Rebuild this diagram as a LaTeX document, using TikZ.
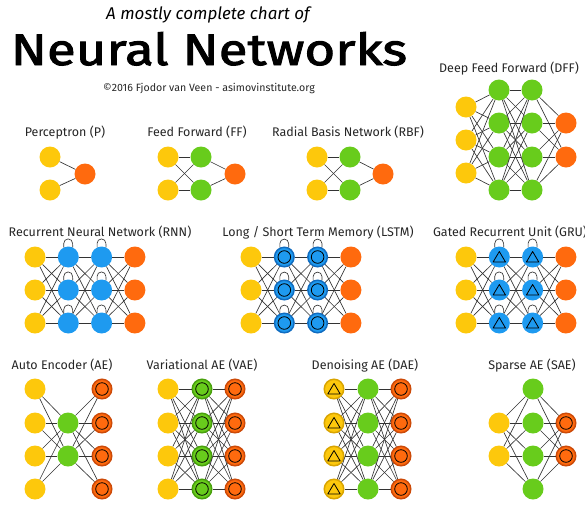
\documentclass[tikz,border=0pt]{standalone}
\usepackage{fontspec}
\setmainfont{Fira Sans}
\newfontfamily\headfont[FakeStretch=1.2, FakeBold=2.2]{Fira Sans}
\usetikzlibrary{positioning}
\definecolor{nnyellow}{HTML}{FDC80C}
\definecolor{nngreen}{HTML}{68CC1C}
\definecolor{nnorange}{HTML}{FF6A0E}
\definecolor{nnblue}{HTML}{1E9AF0}
\definecolor{nnyellowdark}{HTML}{D9A400}
\definecolor{nngreendark}{HTML}{48A00C}
\definecolor{nnorangedark}{HTML}{CC4A08}
\definecolor{nnbluedark}{HTML}{106CC0}
\def\layersep{33.3}

\begin{document}
\begin{tikzpicture}[x=1pt,y=-1pt]
    \tikzstyle{conn}=[draw=black!80, line width=0.65pt]
    \tikzstyle{neuron}=[circle, minimum size=21pt, inner sep=0pt]
    \tikzstyle{ringed}=[line width=1.5pt, minimum size=19.5pt]
    \tikzstyle{input neuron}=[neuron, fill=nnyellow]
    \tikzstyle{hidden neuron}=[neuron, fill=nngreen]
    \tikzstyle{output neuron}=[neuron, fill=nnorange]
    \tikzstyle{recurrent neuron}=[neuron, fill=nnblue]
    \tikzstyle{match}=[path picture={\draw[black, line width=0.8pt] (path picture bounding box.center) circle (6.3pt);}]
    \tikzstyle{noisy}=[path picture={\draw[black, line width=0.8pt, line join=round] ([yshift=5.5pt]path picture bounding box.center) -- ++(-6.2pt,-10.5pt) -- ++(12.4pt,0pt) -- cycle;}]
    \tikzstyle{match output neuron}=[output neuron, ringed, draw=nnorangedark, match]
    \tikzstyle{memory neuron}=[recurrent neuron, ringed, draw=nnbluedark, match]
    \tikzstyle{gated neuron}=[recurrent neuron, noisy]
    \tikzstyle{probabilistic neuron}=[hidden neuron, ringed, draw=nngreendark, match]
    \tikzstyle{noisy input neuron}=[input neuron, ringed, draw=nnyellowdark, noisy]
    \tikzstyle{annot}=[anchor=base, text=black!85, font=\fontsize{12.5}{14}\selectfont]

    \useasboundingbox (0,0) rectangle (585,509);

    \node[anchor=base] (title) at (208,19.5) {\fontsize{17}{20}\selectfont\itshape A mostly complete chart of};
    \node[anchor=base] (heading) at (209,65) {\fontsize{44}{48}\headfont Neural Networks};
    \node[anchor=base, text=black!85] (credit) at (209,91) {\fontsize{10.6}{12}\selectfont ©2016 Fjodor van Veen - asimovinstitute.org};

%   Perceptron
    \node[annot] (P) at (65,136.5) {Perceptron (P)};
    \foreach \y [count=\i] in {157,190} \node[input neuron] (P-I-\i) at (50,\y) {};
    \node[output neuron] (P-O) at (85,174) {};
    \foreach \i in {1,2} \draw[conn] (P-I-\i) -- (P-O);

%   Feed Forward
    \node[annot] (FF) at (197,136.5) {Feed Forward (FF)};
    \foreach \y [count=\i] in {157,190}{
        \node[input neuron] (FF-I-\i) at (168,\y) {};
        \node[hidden neuron] (FF-H-\i) at (201,\y) {};
    }
    \node[output neuron] (FF-O) at (235,174) {};
    \foreach \i in {1,2}{
        \foreach \j in {1,2} \draw[conn] (FF-I-\i) -- (FF-H-\j);
        \draw[conn] (FF-H-\i) -- (FF-O);
    }

%   Radial Basis Network
    \node[annot] (RBF) at (348,136.5) {Radial Basis Network (RBF)};
    \foreach \y [count=\i] in {157,190}{
        \node[input neuron] (RBF-I-\i) at (317,\y) {};
        \node[hidden neuron] (RBF-H-\i) at (350,\y) {};
    }
    \node[output neuron] (RBF-O) at (383,174) {};
    \foreach \i in {1,2}{
        \foreach \j in {1,2} \draw[conn] (RBF-I-\i) -- (RBF-H-\j);
        \draw[conn] (RBF-H-\i) -- (RBF-O);
    }

%   Deep Feed Forward
    \node[annot] (DFF) at (509,72.5) {Deep Feed Forward (DFF)};
    \foreach \y [count=\i] in {107,140,173} \node[input neuron] (DFF-I-\i) at (466,\y) {};
    \foreach \y [count=\i] in {90,123,157,190}{
        \node[hidden neuron] (DFF-A-\i) at (499,\y) {};
        \node[hidden neuron] (DFF-B-\i) at (532,\y) {};
    }
    \foreach \y [count=\i] in {123,157} \node[output neuron] (DFF-O-\i) at (566,\y) {};
    \foreach \j in {1,...,4}{
        \foreach \i in {1,2,3} \draw[conn] (DFF-I-\i) -- (DFF-A-\j);
        \foreach \k in {1,...,4} \draw[conn] (DFF-A-\j) -- (DFF-B-\k);
        \foreach \o in {1,2} \draw[conn] (DFF-B-\j) -- (DFF-O-\o);
    }

%   Recurrent Neural Network
    \node[annot] (RNN) at (100,236.5) {Recurrent Neural Network (RNN)};
    \foreach \y [count=\i] in {257,290,323}{
        \node[input neuron] (RNN-I-\i) at (35,\y) {};
        \node[recurrent neuron] (RNN-A-\i) at (35+\layersep,\y) {};
        \node[recurrent neuron] (RNN-B-\i) at (35+2*\layersep,\y) {};
        \node[output neuron] (RNN-O-\i) at (35+3*\layersep,\y) {};
    }
    \foreach \i in {1,2,3}{
        \foreach \j in {1,2,3}{
            \draw[conn] (RNN-I-\i) -- (RNN-A-\j);
            \draw[conn] (RNN-A-\i) -- (RNN-B-\j);
            \draw[conn] (RNN-B-\i) -- (RNN-O-\j);
        }
        \foreach \c in {A,B}
            \draw[conn] (RNN-\c-\i.115) -- ++(0pt,4pt) arc[start angle=180, end angle=0, radius=4.4pt] -- (RNN-\c-\i.65);
    }

%   Long / Short Term Memory
    \node[annot] (LSTM) at (318,236.5) {Long / Short Term Memory (LSTM)};
    \foreach \y [count=\i] in {257,290,323}{
        \node[input neuron] (LSTM-I-\i) at (251,\y) {};
        \node[memory neuron] (LSTM-A-\i) at (251+\layersep,\y) {};
        \node[memory neuron] (LSTM-B-\i) at (251+2*\layersep,\y) {};
        \node[output neuron] (LSTM-O-\i) at (251+3*\layersep,\y) {};
    }
    \foreach \i in {1,2,3}{
        \foreach \j in {1,2,3}{
            \draw[conn] (LSTM-I-\i) -- (LSTM-A-\j);
            \draw[conn] (LSTM-A-\i) -- (LSTM-B-\j);
            \draw[conn] (LSTM-B-\i) -- (LSTM-O-\j);
        }
        \foreach \c in {A,B}
            \draw[conn] (LSTM-\c-\i.115) -- ++(0pt,4pt) arc[start angle=180, end angle=0, radius=4.4pt] -- (LSTM-\c-\i.65);
    }

%   Gated Recurrent Unit
    \node[annot] (GRU) at (510,236.5) {Gated Recurrent Unit (GRU)};
    \foreach \y [count=\i] in {257,290,323}{
        \node[input neuron] (GRU-I-\i) at (466,\y) {};
        \node[gated neuron] (GRU-A-\i) at (466+\layersep,\y) {};
        \node[gated neuron] (GRU-B-\i) at (466+2*\layersep,\y) {};
        \node[output neuron] (GRU-O-\i) at (466+3*\layersep,\y) {};
    }
    \foreach \i in {1,2,3}{
        \foreach \j in {1,2,3}{
            \draw[conn] (GRU-I-\i) -- (GRU-A-\j);
            \draw[conn] (GRU-A-\i) -- (GRU-B-\j);
            \draw[conn] (GRU-B-\i) -- (GRU-O-\j);
        }
        \foreach \c in {A,B}
            \draw[conn] (GRU-\c-\i.115) -- ++(0pt,4pt) arc[start angle=180, end angle=0, radius=4.4pt] -- (GRU-\c-\i.65);
    }

%   Auto Encoder
    \node[annot] (AE) at (62,369.3) {Auto Encoder (AE)};
    \foreach \y [count=\i] in {389,423,456,489}{
        \node[input neuron] (AE-I-\i) at (35,\y) {};
        \node[match output neuron] (AE-O-\i) at (102,\y) {};
    }
    \foreach \y [count=\i] in {423,456} \node[hidden neuron] (AE-H-\i) at (68,\y) {};
    \foreach \j in {1,2}{
        \foreach \i in {1,...,4}{
            \draw[conn] (AE-I-\i) -- (AE-H-\j);
            \draw[conn] (AE-H-\j) -- (AE-O-\i);
        }
    }

%   Variational AE
    \node[annot] (VAE) at (202,369.3) {Variational AE (VAE)};
    \foreach \y [count=\i] in {389,423,456,489}{
        \node[input neuron] (VAE-I-\i) at (168,\y) {};
        \node[probabilistic neuron] (VAE-H-\i) at (202,\y) {};
        \node[match output neuron] (VAE-O-\i) at (235,\y) {};
    }
    \foreach \i in {1,...,4}{
        \foreach \j in {1,...,4}{
            \draw[conn] (VAE-I-\i) -- (VAE-H-\j);
            \draw[conn] (VAE-H-\i) -- (VAE-O-\j);
        }
    }

%   Denoising AE
    \node[annot] (DAE) at (365,369.3) {Denoising AE (DAE)};
    \foreach \y [count=\i] in {389,423,456,489}{
        \node[noisy input neuron] (DAE-I-\i) at (334,\y) {};
        \node[hidden neuron] (DAE-H-\i) at (368,\y) {};
        \node[match output neuron] (DAE-O-\i) at (401,\y) {};
    }
    \foreach \i in {1,...,4}{
        \foreach \j in {1,...,4}{
            \draw[conn] (DAE-I-\i) -- (DAE-H-\j);
            \draw[conn] (DAE-H-\i) -- (DAE-O-\j);
        }
    }

%   Sparse AE
    \node[annot] (SAE) at (532,369.3) {Sparse AE (SAE)};
    \foreach \y [count=\i] in {389,423,456,489} \node[hidden neuron] (SAE-H-\i) at (533,\y) {};
    \foreach \y [count=\i] in {423,456}{
        \node[input neuron] (SAE-I-\i) at (499,\y) {};
        \node[match output neuron] (SAE-O-\i) at (566,\y) {};
    }
    \foreach \i in {1,2}{
        \foreach \j in {1,...,4}{
            \draw[conn] (SAE-I-\i) -- (SAE-H-\j);
            \draw[conn] (SAE-H-\j) -- (SAE-O-\i);
        }
    }
\end{tikzpicture}
\end{document}
